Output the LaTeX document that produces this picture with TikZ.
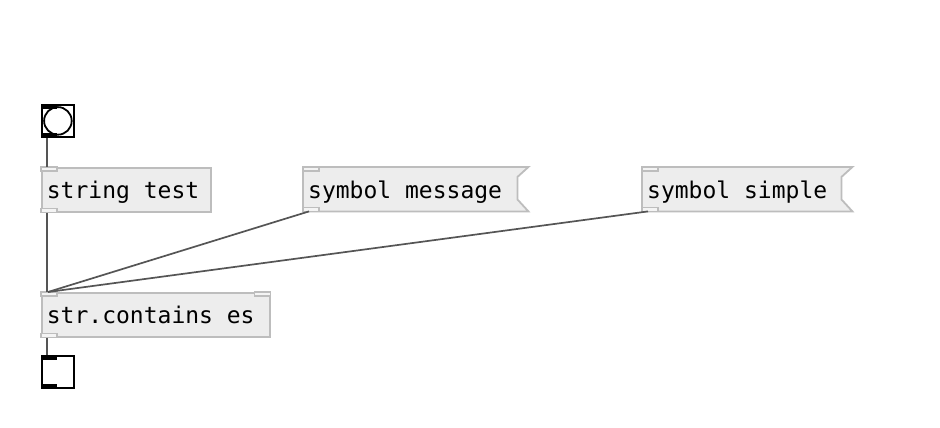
\documentclass[tikz,border=0pt]{standalone}
\usepackage{fontspec}
\setmonofont{DejaVu Sans Mono}
\usetikzlibrary{calc}
\definecolor{boxfill}{HTML}{EDEDED}
\definecolor{boxline}{HTML}{BDBDBD}
\definecolor{wire}{HTML}{555555}
\newcommand{\msp}{\hphantom{x}}
\tikzset{
  pdbox/.style={anchor=north west, draw=boxline, fill=boxfill, line width=1.8pt,
    minimum height=44pt, inner xsep=5pt, inner ysep=0pt, align=left,
    font=\ttfamily\fontsize{23}{24}\selectfont, text depth=0pt},
  pdmsg/.style={anchor=north west, draw=none, fill=none,
    minimum height=44pt, inner xsep=5pt, inner ysep=0pt, align=left,
    font=\ttfamily\fontsize{23}{24}\selectfont, text depth=0pt},
  flag/.style={draw=boxline, fill=boxfill, line width=1.8pt, line join=miter},
  tab/.style={draw=boxline, fill=boxfill!60!white, line width=1.2pt},
  guibox/.style={anchor=north west, draw=black, fill=white, line width=1.8pt,
    minimum width=32pt, minimum height=32pt, inner sep=0pt},
  guitab/.style={fill=black},
  wire/.style={draw=wire, line width=1.7pt}
}
\begin{document}
\begin{tikzpicture}[x=1pt,y=-1pt]
\useasboundingbox[fill=white] (0,0) rectangle (940,428);
% bang
\node[guibox] (b1) at (41,104) {};
\draw[line width=1.8pt] (b1.center) circle (13.8pt);
\fill[guitab] (b1.north west) rectangle ([xshift=16pt,yshift=-5pt]b1.north west);
\fill[guitab] (b1.south west) rectangle ([xshift=16pt,yshift=5pt]b1.south west);
% string test
\node[pdbox, minimum width=169pt, text width=159pt] (t1) at (41,167) {string\msp test};
\draw[tab] (t1.north west) rectangle ([xshift=16pt,yshift=-4pt]t1.north west);
\draw[tab] (t1.south west) rectangle ([xshift=16pt,yshift=4pt]t1.south west);
% symbol message
\node[pdmsg, minimum width=214pt, text width=204pt] (m1) at (303,167) {};
\draw[flag] (m1.north west) -- ([xshift=11pt]m1.north east) -- ([yshift=-10pt]m1.north east)
  -- ([yshift=12pt]m1.south east) -- ([xshift=11pt]m1.south east) -- (m1.south west) -- cycle;
\node[pdmsg, minimum width=214pt, text width=204pt] (m1t) at (303,167) {symbol\msp message};
\draw[tab] (m1.north west) rectangle ([xshift=16pt,yshift=-4pt]m1.north west);
\draw[tab] (m1.south west) rectangle ([xshift=16pt,yshift=4pt]m1.south west);
% symbol simple
\node[pdmsg, minimum width=199pt, text width=189pt] (m2) at (642,167) {};
\draw[flag] (m2.north west) -- ([xshift=11pt]m2.north east) -- ([yshift=-10pt]m2.north east)
  -- ([yshift=12pt]m2.south east) -- ([xshift=11pt]m2.south east) -- (m2.south west) -- cycle;
\node[pdmsg, minimum width=199pt, text width=189pt] (m2t) at (642,167) {symbol\msp simple};
\draw[tab] (m2.north west) rectangle ([xshift=16pt,yshift=-4pt]m2.north west);
\draw[tab] (m2.south west) rectangle ([xshift=16pt,yshift=4pt]m2.south west);
% str.contains
\node[pdbox, minimum width=228pt, text width=218pt] (o1) at (41,292) {str.contains\msp es};
\draw[tab] (o1.north west) rectangle ([xshift=16pt,yshift=-4pt]o1.north west);
\draw[tab] (o1.north east) rectangle ([xshift=-16pt,yshift=-4pt]o1.north east);
\draw[tab] (o1.south west) rectangle ([xshift=16pt,yshift=4pt]o1.south west);
% toggle
\node[guibox] (g1) at (41,355) {};
\fill[guitab] (g1.north west) rectangle ([xshift=16pt,yshift=-5pt]g1.north west);
\fill[guitab] (g1.south west) rectangle ([xshift=16pt,yshift=5pt]g1.south west);
% wires
\draw[wire] ([xshift=6pt]b1.south west) -- ([xshift=6pt]t1.north west);
\draw[wire] ([xshift=6pt]t1.south west) -- ([xshift=6pt]o1.north west);
\draw[wire] ([xshift=6pt]m1.south west) -- ([xshift=7pt]o1.north west);
\draw[wire] ([xshift=6pt]m2.south west) -- ([xshift=7pt]o1.north west);
\draw[wire] ([xshift=6pt]o1.south west) -- ([xshift=6pt]g1.north west);
\end{tikzpicture}
\end{document}
